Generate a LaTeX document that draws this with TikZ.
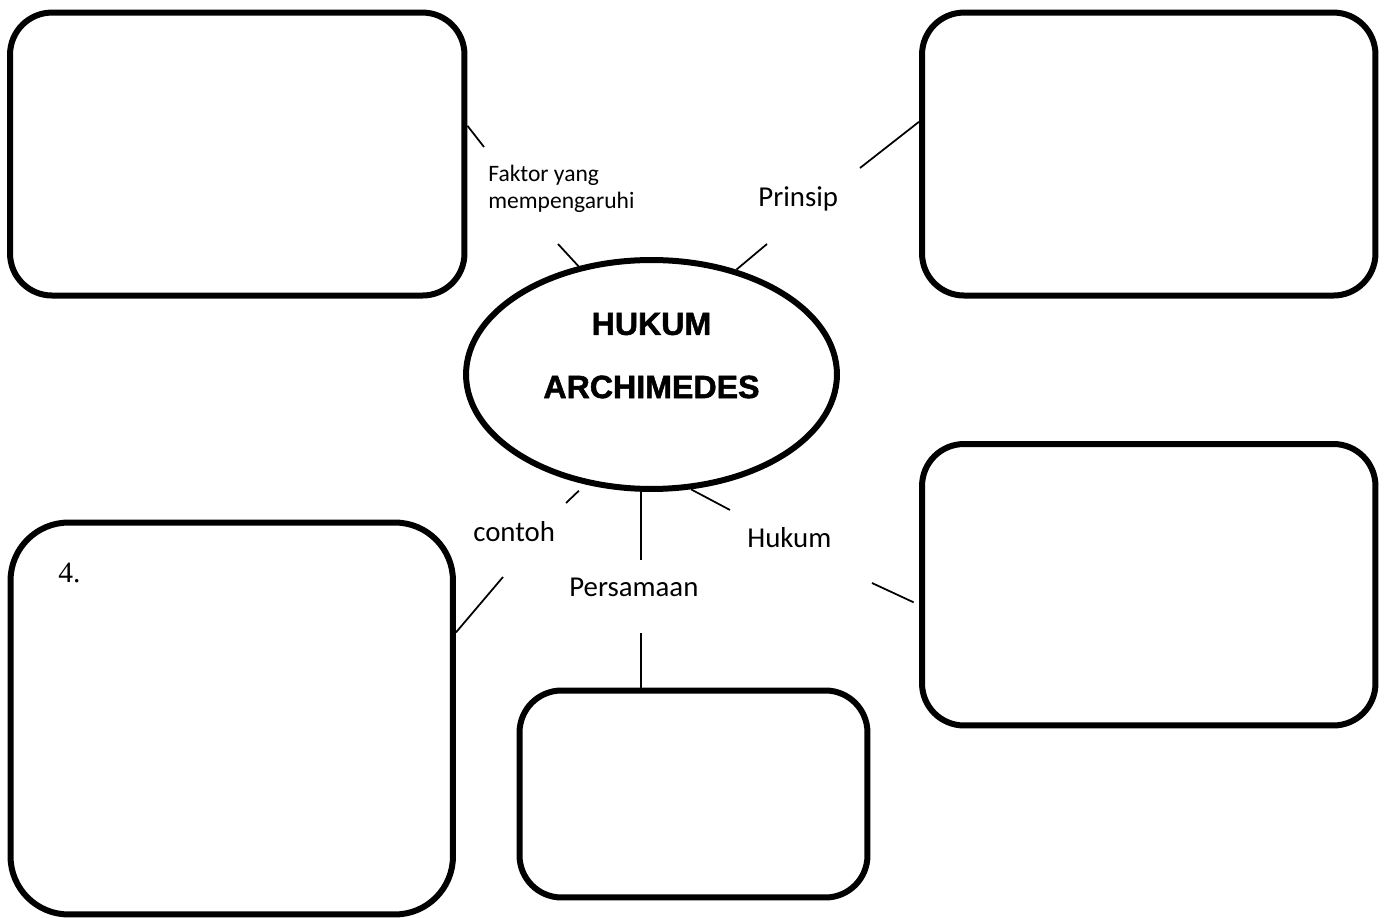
\documentclass[tikz,border=0pt]{standalone}
\usepackage{fontspec}
\usetikzlibrary{shapes.geometric}
\newfontfamily\labelfont{Carlito}
\newfontfamily\titlefont[BoldFeatures={FakeBold=1.6}]{Liberation Sans}
\newfontfamily\numfont{Liberation Serif}

\begin{document}
\begin{tikzpicture}[x=0.02cm, y=-0.02cm,
    box/.style={draw, line width=0.12cm, rounded corners=0.84cm},
    hub/.style={ellipse, draw, line width=0.12cm, minimum width=7.42cm, minimum height=4.58cm},
    title/.style={font=\titlefont\bfseries\fontsize{18.3}{22}\selectfont, inner sep=0pt},
    lbl/.style={font=\labelfont\fontsize{16.4}{19.7}\selectfont, anchor=base west, inner sep=0pt},
    link/.style={line width=0.035cm}]
    \useasboundingbox (0,0) rectangle (1387,918);

    % Elips tengah
    \node[hub] (arch) at (651.5,374.5) {};
    \node[title] (t1) at (651.5,324) {HUKUM};
    \node[title] (t2) at (651.5,387) {ARCHIMEDES};

    % Kotak isian
    \node[box, minimum width=9.09cm, minimum height=5.66cm] (bfaktor) at (237.25,154.05) {};
    \node[box, minimum width=9.07cm, minimum height=5.66cm] (bprinsip) at (1148.75,154.05) {};
    \node[box, minimum width=9.07cm, minimum height=5.63cm] (bhukum) at (1148.75,584.75) {};
    \node[box, rounded corners=1.16cm, minimum width=8.85cm, minimum height=7.84cm] (bcontoh) at (231.75,718.5) {};
    \node[box, minimum width=6.96cm, minimum height=4.14cm] (bpers) at (693.5,794) {};
    \node[anchor=base west, inner sep=0pt, font=\numfont\fontsize{16.8}{20}\selectfont] (no4) at (58,583) {4.};

    % Label penghubung
    \node[lbl, anchor=north west, align=left, font=\labelfont\fontsize{13.4}{15.3}\selectfont] (lfaktor) at (488,164.5) {Faktor yang\\mempengaruhi};
    \node[lbl] (lprinsip) at (758,207) {Prinsip};
    \node[lbl] (lcontoh) at (473,542) {contoh};
    \node[lbl] (lhukum) at (747,548) {Hukum};
    \node[lbl] (lpers) at (569,597) {Persamaan};

    % Garis penghubung
    \coordinate (fk1) at (558,244);
    \coordinate (fk2) at (484,147);
    \coordinate (pr1) at (767,244);
    \coordinate (pr2) at (860,168);
    \coordinate (co1) at (566,503);
    \coordinate (co2) at (503,577);
    \coordinate (pe1) at (641,560);
    \coordinate (pe2) at (641,633);
    \coordinate (hk1) at (730,510);
    \coordinate (hk2) at (872,583);
    \draw[link] (arch.124.8) -- (fk1);
    \draw[link] (bfaktor.7.2) -- (fk2);
    \draw[link] (arch.51.2) -- (pr1);
    \draw[link] (bprinsip.172.8) -- (pr2);
    \draw[link, shorten <=0.18cm] (arch.239.3) -- (co1);
    \draw[link] (bcontoh.21.5) -- (co2);
    \draw[link] (pe1 |- arch.south) -- (pe1);
    \draw[link] (bpers.north -| pe2) -- (pe2);
    \draw[link] (arch.289.3) -- (hk1);
    \draw[link, shorten <=0.12cm] (bhukum.185) -- (hk2);
\end{tikzpicture}
\end{document}
